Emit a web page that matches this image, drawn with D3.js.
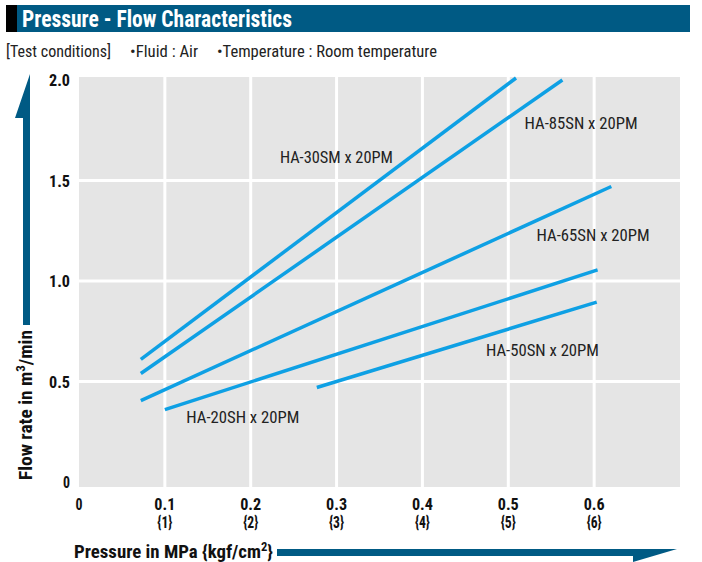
<!DOCTYPE html>
<html>
<head>
<meta charset="utf-8">
<script src="https://cdn.jsdelivr.net/npm/d3@7"></script>
<style>
  body { margin: 0; background: #fff; }
  svg text { font-family: "Liberation Sans Narrow", "Arial Narrow", "Roboto Condensed", "Liberation Sans", sans-serif; }
</style>
</head>
<body>
<div id="chart"></div>
<script>
// data (MPa, m3/min)
const seriesNames = ["HA-30SM x 20PM", "HA-85SN x 20PM", "HA-65SN x 20PM", "HA-20SH x 20PM", "HA-50SN x 20PM"];
const seriesStart = [[0.072, 0.61], [0.072, 0.54], [0.072, 0.405], [0.1, 0.36], [0.277, 0.47]];
const seriesEnd = [[0.509, 2.01], [0.563, 2.0], [0.62, 1.47], [0.604, 1.055], [0.603, 0.895]];
const labelAt = [[0.234, 1.62], [0.519, 1.786], [0.533, 1.229], [0.125, 0.323], [0.474, 0.657]];

const xTicks = [0, 0.1, 0.2, 0.3, 0.4, 0.5, 0.6];
const xTickLabels = ["0", "0.1", "0.2", "0.3", "0.4", "0.5", "0.6"];
const xSubLabels = ["", "{1}", "{2}", "{3}", "{4}", "{5}", "{6}"];
const yTicks = [0, 0.5, 1.0, 1.5, 2.0];
const yTickLabels = ["0", "0.5", "1.0", "1.5", "2.0"];

const W = 702, H = 562;
const blue = "#005a84";
const lineBlue = "#0ea0e4";

const svg = d3.select("#chart").append("svg")
    .attr("width", W)
    .attr("height", H);

const xScale = d3.scaleLinear().domain([0, 0.7]).range([79, 680]);
const yScale = d3.scaleLinear().domain([0, 2]).range([482, 80]);

// title bar
svg.append("rect").attr("x", 6).attr("y", 5).attr("width", 684).attr("height", 27).attr("fill", blue);
svg.append("rect").attr("x", 6).attr("y", 5).attr("width", 11).attr("height", 27).attr("fill", "#000");
svg.append("text")
    .attr("x", 22).attr("y", 27)
    .attr("font-size", 24).attr("font-weight", "bold")
    .attr("fill", "#fff")
    .attr("textLength", 270).attr("lengthAdjust", "spacingAndGlyphs")
    .text("Pressure - Flow Characteristics");

const cond = svg.append("text")
    .attr("y", 57)
    .attr("font-size", 16).attr("fill", "#222");
cond.append("tspan").attr("x", 6)
    .attr("textLength", 105).attr("lengthAdjust", "spacingAndGlyphs")
    .text("[Test conditions]");
cond.append("tspan").attr("x", 130)
    .attr("textLength", 68).attr("lengthAdjust", "spacingAndGlyphs")
    .text("\u2022Fluid\u00a0:\u00a0Air");
cond.append("tspan").attr("x", 217)
    .attr("textLength", 220).attr("lengthAdjust", "spacingAndGlyphs")
    .text("\u2022Temperature\u00a0:\u00a0Room temperature");

// plot background + grid
svg.append("rect")
    .attr("x", xScale(0)).attr("y", yScale(2) - 3)
    .attr("width", xScale(0.7) - xScale(0))
    .attr("height", yScale(0) - yScale(2) + 8)
    .attr("fill", "#e5e5e5");

svg.append("g").selectAll("line")
    .data(xTicks.filter(d => d > 0))
    .enter().append("line")
    .attr("x1", d => xScale(d)).attr("x2", d => xScale(d))
    .attr("y1", yScale(2) - 3).attr("y2", yScale(0) + 5)
    .attr("stroke", "#fff").attr("stroke-width", 3);

svg.append("g").selectAll("line")
    .data(yTicks.filter(d => d > 0 && d < 2))
    .enter().append("line")
    .attr("x1", xScale(0)).attr("x2", xScale(0.7))
    .attr("y1", d => yScale(d)).attr("y2", d => yScale(d))
    .attr("stroke", "#fff").attr("stroke-width", 3);

// tick labels (squeezed to look condensed)
svg.append("g").selectAll("text")
    .data(yTicks)
    .enter().append("text")
    .attr("x", 70).attr("y", d => yScale(d))
    .attr("dy", "0.36em")
    .attr("text-anchor", "end")
    .attr("font-size", 17).attr("font-weight", "bold").attr("fill", "#111")
    .attr("textLength", (d, i) => yTickLabels[i].length * 7)
    .attr("lengthAdjust", "spacingAndGlyphs")
    .text((d, i) => yTickLabels[i]);

svg.append("g").selectAll("text")
    .data(xTicks)
    .enter().append("text")
    .attr("x", d => xScale(d)).attr("y", 504)
    .attr("dy", "0.36em")
    .attr("text-anchor", "middle")
    .attr("font-size", 17).attr("font-weight", "bold").attr("fill", "#111")
    .attr("textLength", (d, i) => xTickLabels[i].length * 7)
    .attr("lengthAdjust", "spacingAndGlyphs")
    .text((d, i) => xTickLabels[i]);

svg.append("g").selectAll("text")
    .data(xTicks.filter((d, i) => xSubLabels[i]))
    .enter().append("text")
    .attr("x", d => xScale(d)).attr("y", 522)
    .attr("dy", "0.36em")
    .attr("text-anchor", "middle")
    .attr("font-size", 16).attr("font-weight", "bold").attr("fill", "#111")
    .attr("textLength", 15)
    .attr("lengthAdjust", "spacingAndGlyphs")
    .text(d => xSubLabels[xTicks.indexOf(d)]);

// series
const line = d3.line().x(d => xScale(d[0])).y(d => yScale(d[1]));
svg.append("g").selectAll("path")
    .data(seriesNames.map((n, i) => [seriesStart[i], seriesEnd[i]]))
    .enter().append("path")
    .attr("d", line)
    .attr("fill", "none")
    .attr("stroke", lineBlue)
    .attr("stroke-width", 3.5);

svg.append("g").selectAll("text")
    .data(seriesNames)
    .enter().append("text")
    .attr("x", (d, i) => xScale(labelAt[i][0]))
    .attr("y", (d, i) => yScale(labelAt[i][1]))
    .attr("dy", "0.36em")
    .attr("font-size", 17).attr("fill", "#222")
    .attr("textLength", 113).attr("lengthAdjust", "spacingAndGlyphs")
    .text(d => d);

// axis arrows
svg.append("path")
    .attr("d", "M30,74 L30,325 L23,325 L23,118 L15,118 Z")
    .attr("fill", blue);
svg.append("path")
    .attr("d", "M277,549 L677,549 L633,562 L633,556 L277,556 Z")
    .attr("fill", blue);

// axis titles
const yTitle = svg.append("text")
    .attr("transform", "translate(32,480) rotate(-90)")
    .attr("font-size", 18).attr("font-weight", "bold").attr("fill", "#111")
    .attr("textLength", 150).attr("lengthAdjust", "spacingAndGlyphs");
yTitle.append("tspan").text("Flow rate in m");
yTitle.append("tspan").attr("font-size", 12).attr("dy", -7).text("3");
yTitle.append("tspan").attr("dy", 7).text("/min");

const xTitle = svg.append("text")
    .attr("x", 74).attr("y", 558)
    .attr("font-size", 18).attr("font-weight", "bold").attr("fill", "#111")
    .attr("textLength", 199).attr("lengthAdjust", "spacingAndGlyphs");
xTitle.append("tspan").text("Pressure in MPa {kgf/cm");
xTitle.append("tspan").attr("font-size", 12).attr("dy", -7).text("2");
xTitle.append("tspan").attr("dy", 7).text("}");
</script>
</body>
</html>
